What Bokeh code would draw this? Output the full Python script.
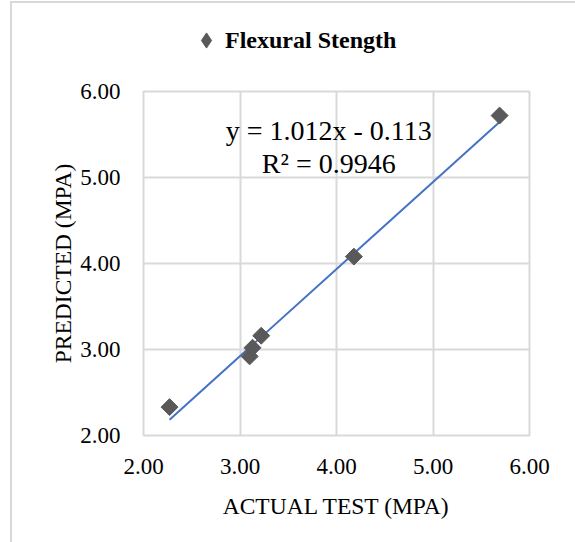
from bokeh.plotting import figure
from bokeh.models import (Range1d, FixedTicker, NumeralTickFormatter, Legend, LegendItem,
                          Label, ColumnDataSource)
from bokeh.layouts import column
from bokeh.embed import file_html
from bokeh.resources import INLINE
import math

# ---- data ----
actual_test = [2.27, 3.10, 3.13, 3.22, 4.18, 5.69]
predicted = [2.33, 2.92, 3.02, 3.16, 4.08, 5.72]
series_name = "Flexural Stength"
slope = 1.012
intercept = -0.113
r_squared = 0.9946
tick_values = [2, 3, 4, 5, 6]

FONT = "Liberation Serif"
GRID = "#d9d9d9"
MARK = "#595959"

src = ColumnDataSource(dict(x=actual_test, y=predicted))

# ---- header with the series legend (points lie outside its ranges, only the key shows) ----
head = figure(width=563, height=70, output_backend="svg", toolbar_location=None,
              x_axis_type=None, y_axis_type=None, min_border=0,
              x_range=Range1d(0, 1), y_range=Range1d(0, 1))
head.outline_line_color = None
head.xgrid.visible = False
head.ygrid.visible = False
key = head.scatter("x", "y", source=src, marker="diamond", size=12,
                   fill_color=MARK, line_color=MARK)
legend = Legend(items=[LegendItem(label=series_name, renderers=[key])],
                location=(44, 14), orientation="horizontal",
                glyph_width=38, glyph_height=38, label_standoff=-8,
                label_text_font=FONT, label_text_font_size="24px",
                label_text_font_style="bold", label_text_color="black",
                border_line_color=None, background_fill_alpha=0,
                padding=0, margin=0)
head.add_layout(legend, "center")

# ---- main chart ----
p = figure(width=563, height=469, output_backend="svg", toolbar_location=None,
           x_range=Range1d(2, 6), y_range=Range1d(2, 6),
           min_border_left=131, min_border_right=46, min_border_top=18, min_border_bottom=107)
p.outline_line_color = GRID
p.outline_line_width = 2
p.background_fill_color = "white"
p.border_fill_color = "white"

for g in (p.xgrid, p.ygrid):
    g.grid_line_color = GRID
    g.grid_line_width = 2
p.xgrid.ticker = FixedTicker(ticks=tick_values)
p.ygrid.ticker = FixedTicker(ticks=tick_values)

for ax in (p.xaxis, p.yaxis):
    ax.ticker = FixedTicker(ticks=tick_values)
    ax.formatter = NumeralTickFormatter(format="0.00")
    ax.axis_line_color = None
    ax.major_tick_line_color = None
    ax.minor_tick_line_color = None
    ax.major_label_text_font = FONT
    ax.major_label_text_font_size = "23px"
    ax.major_label_text_color = "black"
    ax.axis_label_text_font = FONT
    ax.axis_label_text_font_size = "23.5px"
    ax.axis_label_text_font_style = "normal"
    ax.axis_label_text_color = "black"

p.xaxis.axis_label = "ACTUAL TEST (MPA)"
p.yaxis.axis_label = "PREDICTED (MPA)"
p.xaxis.major_label_standoff = 17
p.yaxis.major_label_standoff = 17
p.xaxis.axis_label_standoff = 16
p.yaxis.axis_label_standoff = 1

# trendline from the fitted equation over the data extent
x0, x1 = min(actual_test), max(actual_test)
trend = ColumnDataSource(dict(x=[x0, x1], y=[slope * x0 + intercept, slope * x1 + intercept]))
p.line("x", "y", source=trend, line_color="#4472C4", line_width=2)

p.scatter("x", "y", source=src, marker="square", size=12, angle=math.pi / 4,
          fill_color=MARK, line_color=MARK)

eq1 = Label(x=3.92, y=5.543, text=f"y = {slope:.3f}x - {abs(intercept):.3f}",
            text_font=FONT, text_font_size="28px", text_align="center",
            text_baseline="alphabetic", text_color="black")
eq2 = Label(x=3.92, y=5.163, text=f"R² = {r_squared:.4f}",
            text_font=FONT, text_font_size="28px", text_align="center",
            text_baseline="alphabetic", text_color="black")
p.add_layout(eq1)
p.add_layout(eq2)

layout = column(head, p, spacing=0)
layout.margin = (1, 0, 0, 10)
layout.styles = {"border-left": "2px solid #d9d9d9", "border-top": "2px solid #d9d9d9"}

open("out.html", "w").write(file_html(layout, INLINE))
